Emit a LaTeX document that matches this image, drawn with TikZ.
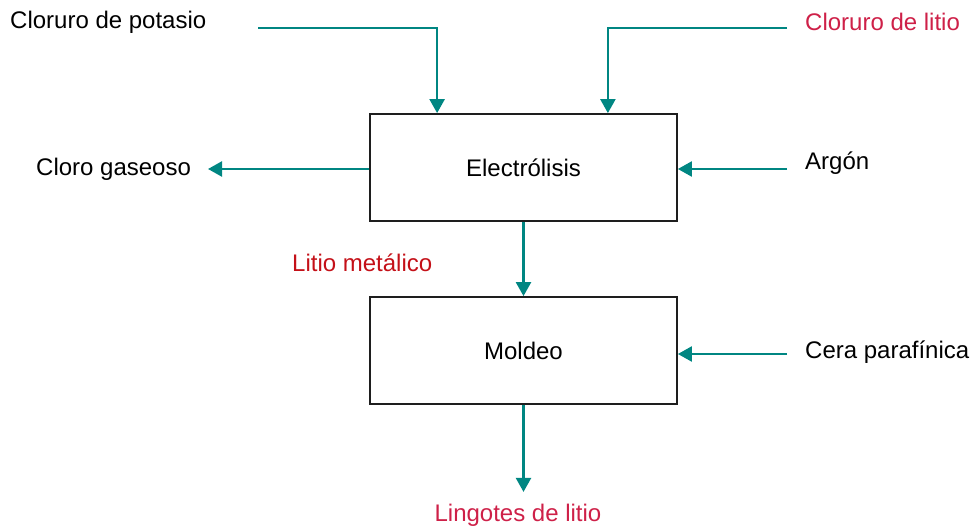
\documentclass[tikz,border=0pt]{standalone}
\usepackage{fontspec}
\setmainfont{Liberation Sans}
\usepackage{xcolor}
\usepackage{tikz}
\usetikzlibrary{arrows.meta,positioning,calc}
\definecolor{lfedge}{RGB}{30,30,30}
\definecolor{lfflow}{RGB}{0,134,130}
\definecolor{lfred}{RGB}{206,32,72}
\definecolor{lfdark}{RGB}{196,16,24}
\tikzset{
  lfbox/.style={
    draw=lfedge, line width=1.8pt, fill=white,
    align=center, inner sep=0pt, font=\fontsize{24}{28}\selectfont,
    minimum width=307pt, minimum height=107pt
  },
  lbl/.style={font=\fontsize{24}{28}\selectfont, inner sep=0pt, text=black},
  rlbl/.style={lbl, text=lfred},
  flow/.style={-{Triangle[length=14pt,width=15pt]}, draw=lfflow, line width=2.4pt},
  every picture/.append style={line join=miter}
}
\begin{document}
\begin{tikzpicture}[x=1pt,y=-1pt]
  \useasboundingbox (0,0) rectangle (972,527);
  % process blocks
  \node[lfbox] (elec) at (523.5,167.5) {Electrólisis};
  \node[lfbox] (mold) at (523.5,350.5) {Moldeo};
  % inputs and outputs
  \node[lbl, anchor=west] (kcl) at (10,22) {Cloruro de potasio};
  \node[rlbl, anchor=west] (licl) at (805,22) {Cloruro de litio};
  \node[lbl, anchor=west] (cl2) at (36,169) {Cloro gaseoso};
  \node[lbl, anchor=west] (ar) at (805,163) {Argón};
  \node[rlbl, anchor=west, text=lfdark] (lim) at (292,263) {Litio metálico};
  \node[lbl, anchor=west] (wax) at (805,352) {Cera parafínica};
  \node[rlbl] (ingot) at (518,515) {Lingotes de litio};
  % free ends
  \coordinate (kclend) at (258,28);
  \coordinate (liclend) at (787,28);
  \coordinate (cl2end) at (208,169);
  \coordinate (arend) at (787,169);
  \coordinate (waxend) at (787,354);
  \coordinate (ingotend) at ($(mold.south)+(0,87)$);
  % connectors
  \draw[flow] (kclend) -| ($(elec.north west)+(68,0)$);
  \draw[flow] (liclend) -| ($(elec.north east)+(-70,0)$);
  \draw[flow] (elec.west |- cl2end) -- (cl2end);
  \draw[flow] (arend) -- (elec.east |- arend);
  \draw[flow] (elec.south) -- (mold.north);
  \draw[flow] (waxend) -- (mold.east |- waxend);
  \draw[flow] (mold.south) -- (ingotend);
\end{tikzpicture}
\end{document}
